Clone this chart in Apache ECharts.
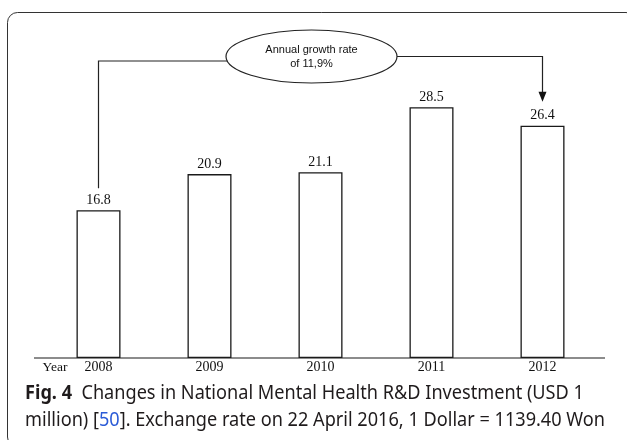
<!DOCTYPE html>
<html><head><meta charset="utf-8">
<script src="https://cdn.jsdelivr.net/npm/echarts@6/dist/echarts.min.js"></script>
<style>html,body{margin:0;padding:0;background:#fff}#c{width:627px;height:440px}</style>
</head><body><div id="c"></div>
<script>
// ---- data ----
const years = ['2008', '2009', '2010', '2011', '2012'];
const investment = [16.8, 20.9, 21.1, 28.5, 26.4];
const axisTitle = 'Year';
const annotationLines = ['Annual growth rate', 'of 11,9%'];
const captionLabel = 'Fig. 4';
const captionLine1 = 'Changes in National Mental Health R&D Investment (USD 1';
const captionLine2a = 'million) [';
const captionRef = '50';
const captionLine2b = ']. Exchange rate on 22 April 2016, 1 Dollar = 1139.40 Won';

const chart = echarts.init(document.getElementById('c'), null, { renderer: 'canvas' });
chart.setOption({
  animation: false,
  backgroundColor: '#fff',
  grid: { left: 43, right: 29, top: 50, bottom: 82 },
  xAxis: {
    type: 'category', data: years,
    axisLine: { show: false }, axisTick: { show: false },
    axisLabel: { margin: 2, color: '#111', fontFamily: 'Liberation Serif', fontSize: 14 }
  },
  yAxis: { type: 'value', min: 0, max: 35, show: false },
  series: [{
    type: 'bar', data: investment, barWidth: 44,
    itemStyle: { color: '#fff', borderColor: '#1a1a1a', borderWidth: 1.3 },
    label: { show: true, position: 'top', distance: 3, color: '#111',
      fontFamily: 'Liberation Serif', fontSize: 14, formatter: p => p.value.toFixed(1) }
  }]
});

// ---- annotation / decoration positioned from the chart's scales ----
const base = chart.convertToPixel({ seriesIndex: 0 }, [0, 0]);
const first = chart.convertToPixel({ seriesIndex: 0 }, [0, investment[0]]);
const last = chart.convertToPixel({ seriesIndex: 0 }, [years.length - 1, investment[investment.length - 1]]);

const cx = 311.5, cy = 56.5, rx = 85.5, ry = 26.5;
const tipY = last[1] - 24;

// caption width fitting
const mctx = document.createElement('canvas').getContext('2d');
const capFont = '"Noto Sans", sans-serif';
const capSize = 19.2;
function tw(t, bold) { mctx.font = (bold ? 'bold ' : '') + capSize + 'px ' + capFont; return mctx.measureText(t).width; }
const w2 = tw(captionLine2a + captionRef + captionLine2b, false);
const sx = 580 / w2;
const capColor = '#1f1b1c';

chart.setOption({
  graphic: [
    { type: 'rect', silent: true, shape: { x: 7.5, y: 12.5, width: 628.5, height: 434.5, r: 10 },
      style: { fill: 'none', stroke: '#333', lineWidth: 1 } },
    { type: 'line', silent: true, shape: { x1: 34, y1: base[1], x2: 605, y2: base[1] },
      style: { stroke: '#1a1a1a', lineWidth: 1.2 } },
    { type: 'text', silent: true, x: 55, y: base[1] + 9,
      style: { text: axisTitle, font: '13.5px "Liberation Serif"', fill: '#111', align: 'center', verticalAlign: 'middle' } },
    { type: 'ellipse', silent: true, shape: { cx: cx, cy: cy, rx: rx, ry: ry },
      style: { fill: '#fff', stroke: '#222', lineWidth: 1.2 } },
    { type: 'text', silent: true, x: cx, y: cy,
      style: { text: annotationLines.join('\n'), font: '11px "Liberation Sans"', lineHeight: 14,
        fill: '#111', align: 'center', verticalAlign: 'middle' } },
    { type: 'polyline', silent: true,
      shape: { points: [[first[0], first[1] - 22], [first[0], 61], [cx - rx * Math.sqrt(1 - Math.pow((61 - cy) / ry, 2)), 61]] },
      style: { stroke: '#222', lineWidth: 1.2, fill: 'none' } },
    { type: 'polyline', silent: true,
      shape: { points: [[cx + rx, cy], [last[0], cy], [last[0], tipY - 8]] },
      style: { stroke: '#222', lineWidth: 1.2, fill: 'none' } },
    { type: 'polygon', silent: true,
      shape: { points: [[last[0] - 4, tipY - 10], [last[0] + 4, tipY - 10], [last[0], tipY]] },
      style: { fill: '#111' } },
    { type: 'text', silent: true, x: 25, y: 394, scaleX: sx,
      style: { text: '{b|' + captionLabel + '}{r|  ' + captionLine1 + '}',
        rich: {
          b: { fontFamily: capFont, fontSize: capSize, fontWeight: 'bold', fill: capColor },
          r: { fontFamily: capFont, fontSize: capSize, fill: capColor }
        }, align: 'left', verticalAlign: 'middle' } },
    { type: 'text', silent: true, x: 25, y: 421, scaleX: sx,
      style: { text: '{r|' + captionLine2a + '}{l|' + captionRef + '}{r|' + captionLine2b + '}',
        rich: {
          r: { fontFamily: capFont, fontSize: capSize, fill: capColor },
          l: { fontFamily: capFont, fontSize: capSize, fill: '#2b5bd7' }
        }, align: 'left', verticalAlign: 'middle' } }
  ]
});
</script>
</body></html>
